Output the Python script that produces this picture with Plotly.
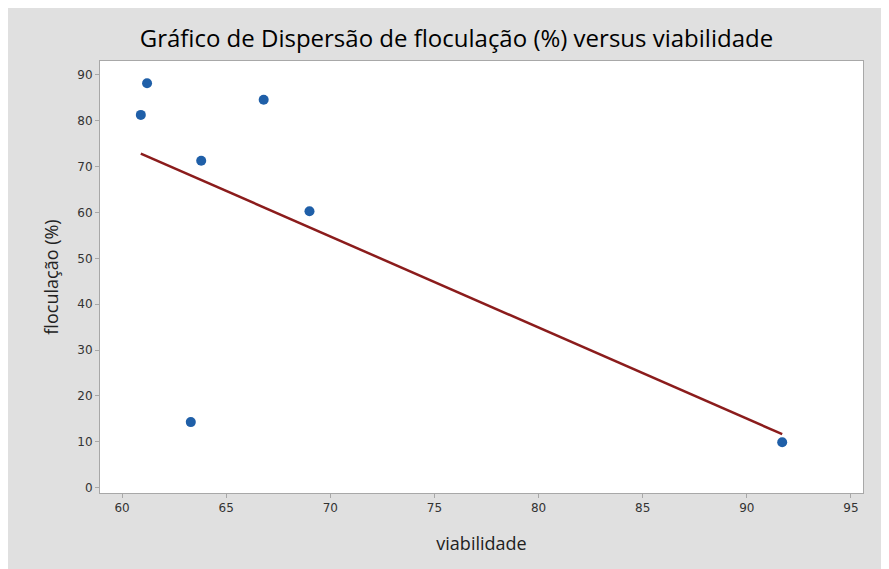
import numpy as np
import plotly.graph_objects as go

viabilidade = [60.9, 61.2, 63.3, 63.8, 66.8, 69.0, 91.7]
floculacao = [81.3, 88.2, 14.3, 71.3, 84.6, 60.3, 9.9]
x_ticks = [60, 65, 70, 75, 80, 85, 90, 95]
y_ticks = [0, 10, 20, 30, 40, 50, 60, 70, 80, 90]

slope, intercept = np.polyfit(viabilidade, floculacao, 1)
x_fit = np.array([min(viabilidade), max(viabilidade)])
y_fit = slope * x_fit + intercept

fig = go.Figure()
fig.add_trace(go.Scatter(x=x_fit, y=y_fit, mode="lines",
                         line=dict(color="#8b1c1c", width=2.5), showlegend=False))
fig.add_trace(go.Scatter(x=viabilidade, y=floculacao, mode="markers",
                         marker=dict(color="#1f5fa8", size=10), showlegend=False))

axis_common = dict(showgrid=False, zeroline=False, showline=True, linecolor="#a8a8a8",
                   linewidth=1, mirror=True, ticks="outside", ticklen=4, tickcolor="#a8a8a8",
                   tickfont=dict(family="DejaVu Sans", size=12, color="#333333"))

fig.update_layout(
    width=881, height=561,
    margin=dict(l=92, r=26, t=53, b=76),
    paper_bgcolor="#e0e0e0", plot_bgcolor="white",
    title=dict(text="Gráfico de Dispersão de floculação (%) versus viabilidade",
               x=0.509, xanchor="center", y=1 - 31 / 561, yanchor="middle",
               font=dict(family="Open Sans", size=24, color="#000000")),
    xaxis=dict(range=[58.94, 95.58], tickvals=x_ticks,
               title=dict(text="viabilidade", font=dict(family="Open Sans", size=18, color="#222222"), standoff=22),
               **axis_common),
    yaxis=dict(range=[-1.16, 93.05], tickvals=y_ticks,
               title=dict(text="floculação (%)", font=dict(family="Open Sans", size=18, color="#222222"), standoff=14),
               **axis_common),
)
fig.write_html("out.html")
